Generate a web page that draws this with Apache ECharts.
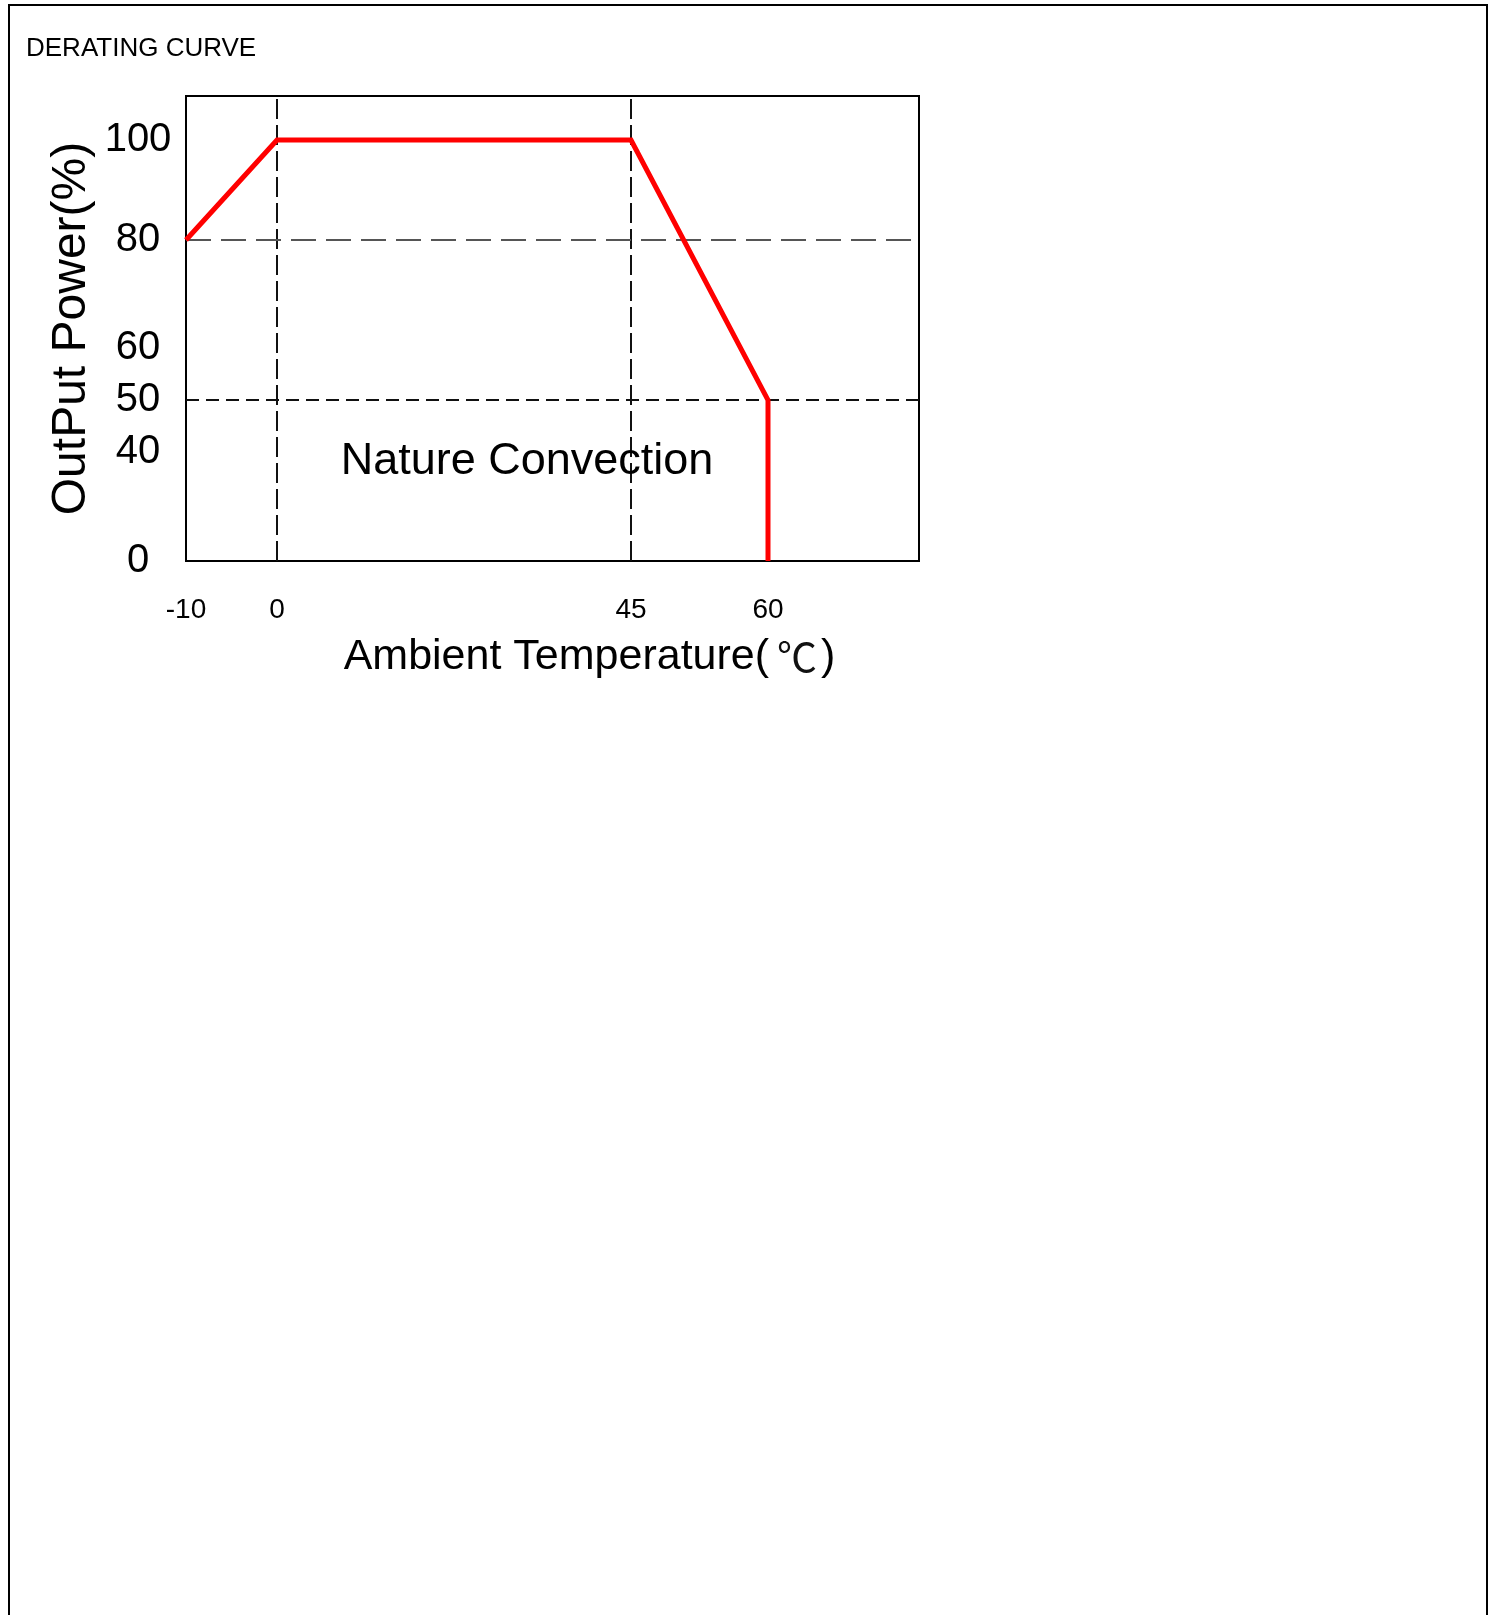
<!DOCTYPE html>
<html>
<head>
<meta charset="utf-8">
<script src="https://cdn.jsdelivr.net/npm/echarts@6/dist/echarts.min.js"></script>
<style>
html,body{margin:0;padding:0;background:#fff}
#c{width:1494px;height:1615px}
</style>
</head>
<body>
<div id="c"></div>
<script>
// ---- text ----
const chartTitle = 'DERATING CURVE';
const annotationText = 'Nature Convection';
const yAxisTitle = 'OutPut Power(%)';
const xAxisTitleMain = 'Ambient Temperature(';
const xAxisTitleUnit = '℃';
const xAxisTitleEnd = ')';

// ---- data ----
const temperatures = [-10, 0, 45, 60, 60];   // °C
const outputPower  = [80, 100, 100, 50, 0];  // %
const xTickValues  = [-10, 0, 45, 60];
const yTickValues  = [0, 40, 50, 60, 80, 100];
const xGuideValues = [0, 45];
const yGuideValues = [80, 50];

// ---- non-uniform axis scales of the original drawing (value -> distance along axis) ----
const X_SCALE = [[-10, 0], [0, 91], [45, 445], [60, 582]];
const Y_SCALE = [[0, 0], [40, 109], [50, 161], [60, 213], [80, 321], [100, 421]];
const X_LEN = 733, Y_LEN = 465;

function mapScale(knots, v) {
  let i = 0;
  while (i < knots.length - 2 && v > knots[i + 1][0]) i++;
  const [v0, p0] = knots[i], [v1, p1] = knots[i + 1];
  return p0 + (v - v0) * (p1 - p0) / (v1 - v0);
}
function labelFor(knots, values, pos) {
  for (const v of values) if (Math.abs(mapScale(knots, v) - pos) < 0.5) return String(v);
  return '';
}
const sx = v => mapScale(X_SCALE, v);
const sy = v => mapScale(Y_SCALE, v);

const curveData = temperatures.map((t, i) => [sx(t), sy(outputPower[i])]);

const FONT = 'Liberation Sans, Arial, sans-serif';

const chart = echarts.init(document.getElementById('c'), null, {renderer: 'canvas'});
chart.setOption({
  animation: false,
  backgroundColor: '#ffffff',
  grid: {
    left: 186, top: 96, width: X_LEN, height: Y_LEN,
    show: true, borderColor: '#000', borderWidth: 2, backgroundColor: 'transparent'
  },
  xAxis: {
    type: 'value', min: 0, max: X_LEN,
    axisLine: {show: true, onZero: false, lineStyle: {color: '#000', width: 2}},
    axisTick: {show: false},
    splitLine: {show: false},
    axisLabel: {
      customValues: xTickValues.map(sx),
      formatter: p => labelFor(X_SCALE, xTickValues, p),
      fontSize: 28, fontFamily: FONT, color: '#000',
      margin: 49, verticalAlign: 'middle'
    },
    name: '{a|' + xAxisTitleMain + '}{b|' + xAxisTitleUnit + '}{a|' + xAxisTitleEnd + '}',
    nameLocation: 'middle',
    nameGap: 73,
    nameTextStyle: {
      padding: [0, 0, 0, 74],
      rich: {
        a: {fontSize: 43, fontFamily: FONT, color: '#000', lineHeight: 46},
        b: {fontSize: 40, fontFamily: 'Noto Sans CJK SC', color: '#111', lineHeight: 46, padding: [0, 4, 0, 8]}
      }
    }
  },
  yAxis: {
    type: 'value', min: 0, max: Y_LEN,
    axisLine: {show: true, onZero: false, lineStyle: {color: '#000', width: 2}},
    axisTick: {show: false},
    splitLine: {show: false},
    axisLabel: {
      customValues: yTickValues.map(sy),
      formatter: p => labelFor(Y_SCALE, yTickValues, p),
      fontSize: 40, fontFamily: FONT, color: '#000',
      margin: 48, align: 'center', padding: [0, 0, 6, 0]
    },
    name: yAxisTitle,
    nameLocation: 'middle',
    nameRotate: 90,
    nameGap: 90,
    nameTextStyle: {fontSize: 48, fontFamily: FONT, color: '#000'}
  },
  graphic: [
    {
      type: 'polyline', silent: true,
      shape: {points: [[9, 1615], [9, 5], [1487, 5], [1487, 1615]]},
      style: {stroke: '#000', lineWidth: 2, fill: null}
    },
    {
      type: 'text', silent: true, x: 26, y: 49,
      style: {text: chartTitle, font: '26px ' + FONT, fill: '#000', verticalAlign: 'middle', align: 'left'}
    },
    {
      type: 'text', silent: true, x: 527, y: 462, z: 10,
      style: {text: annotationText, font: '45px ' + FONT, fill: '#000', verticalAlign: 'middle', align: 'center'}
    }
  ],
  series: [
    {
      name: 'guides', type: 'line', data: [], z: 1, silent: true,
      markLine: {
        silent: true, symbol: ['none', 'none'], label: {show: false}, animation: false,
        data: [
          {xAxis: sx(xGuideValues[0]), lineStyle: {color: '#111', width: 2, type: [20, 6]}},
          {xAxis: sx(xGuideValues[1]), lineStyle: {color: '#111', width: 2, type: [20, 6]}},
          {yAxis: sy(yGuideValues[0]), lineStyle: {color: '#555', width: 2, type: [25, 10]}},
          {yAxis: sy(yGuideValues[1]), lineStyle: {color: '#111', width: 1.8, type: [13, 7]}}
        ]
      }
    },
    {
      name: 'Output power', type: 'line', data: curveData, z: 5,
      showSymbol: false, symbol: 'none', silent: true,
      lineStyle: {color: '#ff0000', width: 5, join: 'miter'}
    }
  ]
});
</script>
</body>
</html>
